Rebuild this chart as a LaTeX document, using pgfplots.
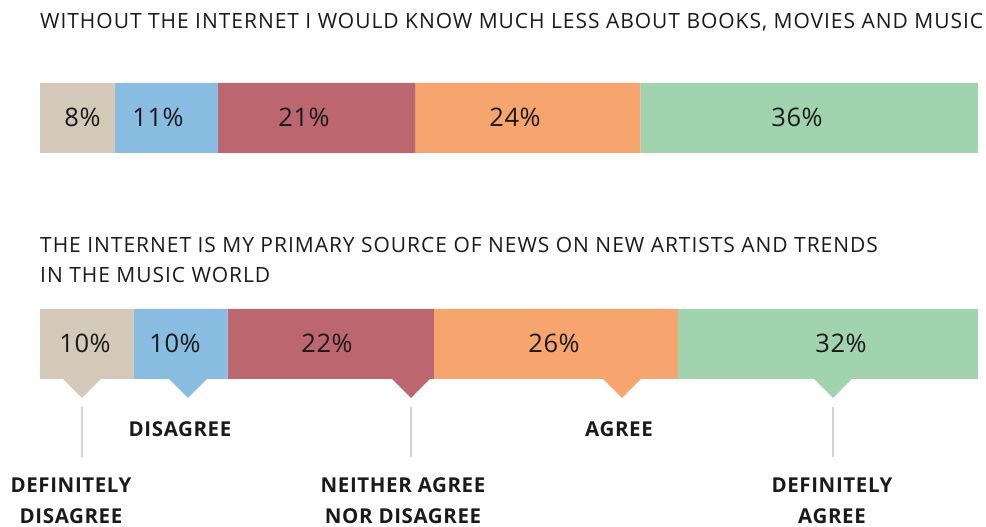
\documentclass[border=0pt]{standalone}
\usepackage{pgfplots}
\pgfplotsset{compat=1.18}
\usepackage{fontspec}
\setmainfont{Open Sans}
\newfontfamily\titlefont{Open Sans}[LetterSpace=4.6]
\newfontfamily\labfont{Open Sans}[LetterSpace=3]
\newfontfamily\pctfont{Open Sans}[LetterSpace=2]
\definecolor{cA}{HTML}{D4C8B8}
\definecolor{cB}{HTML}{88BDE1}
\definecolor{cC}{HTML}{BC6670}
\definecolor{cD}{HTML}{F6A56E}
\definecolor{cE}{HTML}{A1D3AF}
\definecolor{txt}{HTML}{1A1A1A}
\definecolor{lead}{HTML}{D2D2D2}
\newcommand{\ttl}{\titlefont\fontsize{21bp}{25bp}\selectfont}
\newcommand{\pct}{\pctfont\fontsize{25.5bp}{30bp}\selectfont}
\newcommand{\lab}{\labfont\fontsize{20.5bp}{24bp}\selectfont\bfseries}
\begin{document}
\begin{tikzpicture}
\begin{axis}[scale only axis, width=986bp, height=527bp,
  xmin=-4.2644, xmax=100.8529, ymin=0, ymax=527,
  hide axis, xbar stacked, bar width=70, clip=false]
\addplot[fill=cA, draw=none] coordinates {(8,409) (10,183)};
\addplot[fill=cB, draw=none] coordinates {(11,409) (10,183)};
\addplot[fill=cC, draw=none] coordinates {(21,409) (22,183)};
\addplot[fill=cD, draw=none] coordinates {(24,409) (26,183)};
\addplot[fill=cE, draw=none] coordinates {(36,409) (32,183)};
% titles
\node[anchor=base west, text=txt, inner sep=0pt] at (axis cs:0,498) {\ttl WITHOUT THE INTERNET I WOULD KNOW MUCH LESS ABOUT BOOKS, MOVIES AND MUSIC};
\node[anchor=base west, text=txt, inner sep=0pt] at (axis cs:0,274) {\ttl THE INTERNET IS MY PRIMARY SOURCE OF NEWS ON NEW ARTISTS AND TRENDS};
\node[anchor=base west, text=txt, inner sep=0pt] at (axis cs:0,244) {\ttl IN THE MUSIC WORLD};
% percent label anchors (px -> (px-40)/9.38)
\coordinate (t1) at (axis cs:{(82.5-40)/9.38},400);
\coordinate (t2) at (axis cs:{(158-40)/9.38},400);
\coordinate (t3) at (axis cs:{(304-40)/9.38},400);
\coordinate (t4) at (axis cs:{(515-40)/9.38},400);
\coordinate (t5) at (axis cs:{(797-40)/9.38},400);
\coordinate (b1) at (axis cs:{(85-40)/9.38},174);
\coordinate (b2) at (axis cs:{(175-40)/9.38},174);
\coordinate (b3) at (axis cs:{(327-40)/9.38},174);
\coordinate (b4) at (axis cs:{(554-40)/9.38},174);
\coordinate (b5) at (axis cs:{(841-40)/9.38},174);
% pointer triangles
\foreach \px/\c in {82/cA,188/cB,411/cC,622/cD,833/cE}{
  \pgfmathsetmacro\xx{(\px-40)/9.38}
  \pgfmathsetmacro\xl{\xx-2.13}
  \pgfmathsetmacro\xr{\xx+2.13}
  \edef\tmp{\noexpand\fill[\c] (axis cs:\xl,149) -- (axis cs:\xr,149) -- (axis cs:\xx,129) -- cycle;}
  \tmp
}
% leader lines
\foreach \px in {82,411,833}{
  \pgfmathsetmacro\xx{(\px-40)/9.38}
  \edef\tmp{\noexpand\draw[lead, line width=1.5bp] (axis cs:\xx,120) -- (axis cs:\xx,70);}
  \tmp
}
% legend labels
\node[anchor=base, text=txt, inner sep=0pt] at (axis cs:{(180-40)/9.38},90) {\lab DISAGREE};
\node[anchor=base, text=txt, inner sep=0pt] at (axis cs:{(619-40)/9.38},90) {\lab AGREE};
\node[anchor=base, text=txt, inner sep=0pt] at (axis cs:{(71-40)/9.38},34) {\lab DEFINITELY};
\node[anchor=base, text=txt, inner sep=0pt] at (axis cs:{(71-40)/9.38},4) {\lab DISAGREE};
\node[anchor=base, text=txt, inner sep=0pt] at (axis cs:{(403-40)/9.38},34) {\lab NEITHER AGREE};
\node[anchor=base, text=txt, inner sep=0pt] at (axis cs:{(403-40)/9.38},4) {\lab NOR DISAGREE};
\node[anchor=base, text=txt, inner sep=0pt] at (axis cs:{(832-40)/9.38},34) {\lab DEFINITELY};
\node[anchor=base, text=txt, inner sep=0pt] at (axis cs:{(832-40)/9.38},4) {\lab AGREE};
\end{axis}
\foreach \n/\t in {t1/8,t2/11,t3/21,t4/24,t5/36,b1/10,b2/10,b3/22,b4/26,b5/32}{
  \node[anchor=base, text=txt, inner sep=0pt] at (\n) {\pct \t\%};
}
\pgfresetboundingbox
\path (0,0) rectangle (986bp,527bp);
\end{tikzpicture}
\end{document}
